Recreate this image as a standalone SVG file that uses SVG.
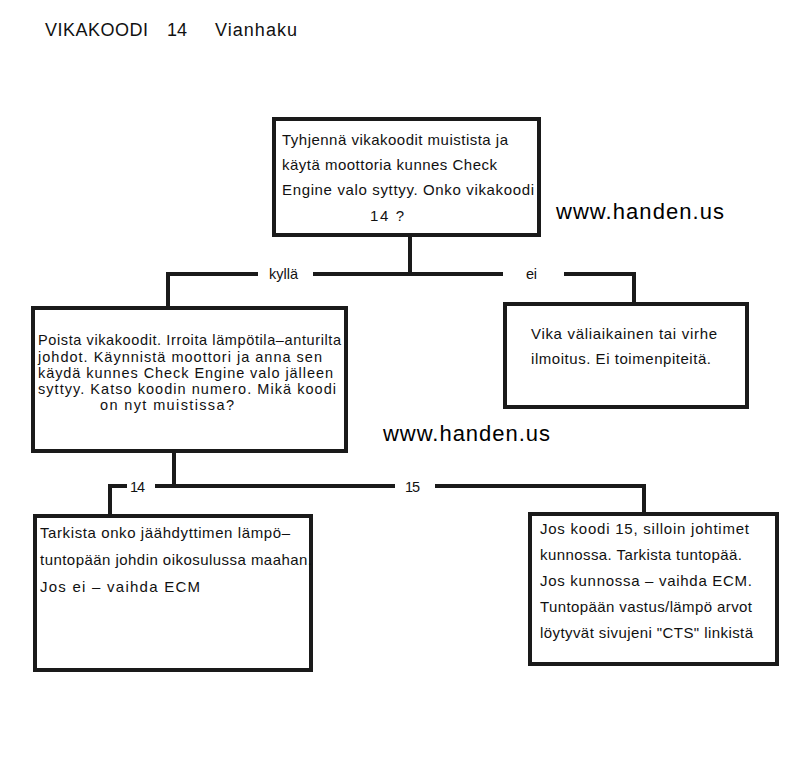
<svg xmlns="http://www.w3.org/2000/svg" width="800" height="766" viewBox="0 0 800 766">
<style>
.box{fill:#fff;stroke:#1a1a1a;stroke-width:4}
.con{fill:none;stroke:#1a1a1a;stroke-width:4;stroke-linejoin:miter}
text{font-family:"Liberation Sans",Arial,sans-serif;fill:#111}
.t{font-size:15px}
.t2{font-size:14.5px}
.lbl{font-size:14.5px}
.wm{font-size:22px;fill:#000}
.title{font-size:18px}
</style>
<rect width="800" height="766" fill="#fff"/>
<g id="title">
<text class="title" x="45" y="36" textLength="103" lengthAdjust="spacing">VIKAKOODI</text>
<text class="title" x="167" y="36" textLength="20" lengthAdjust="spacing">14</text>
<text class="title" x="215" y="36" textLength="82" lengthAdjust="spacing">Vianhaku</text>
</g>
<g id="connectors">
<path class="con" d="M410,235 V274"/>
<path class="con" d="M168,308 V274 H258"/>
<path class="con" d="M313,274 H503"/>
<path class="con" d="M564,274 H634 V304"/>
<path class="con" d="M174,451 V486"/>
<path class="con" d="M110,516 V486 H127"/>
<path class="con" d="M155,486 H395"/>
<path class="con" d="M435,486 H644 V514"/>
<text class="lbl" x="269" y="279" textLength="29" lengthAdjust="spacing">kyllä</text>
<text class="lbl" x="526" y="279" textLength="11" lengthAdjust="spacing">ei</text>
<text class="lbl" x="130" y="492" textLength="15" lengthAdjust="spacing">14</text>
<text class="lbl" x="405" y="492" textLength="15" lengthAdjust="spacing">15</text>
</g>
<g id="node1">
<rect class="box" x="274" y="119" width="265" height="116"/>
<text class="t" x="282" y="145" textLength="226" lengthAdjust="spacing">Tyhjennä vikakoodit muistista ja</text>
<text class="t" x="282" y="170" textLength="215" lengthAdjust="spacing">käytä moottoria kunnes Check</text>
<text class="t" x="282" y="195" textLength="252" lengthAdjust="spacing">Engine valo syttyy. Onko vikakoodi</text>
<text class="t" x="370" y="221" textLength="34" lengthAdjust="spacing">14 ?</text>
</g>
<g id="node2">
<rect class="box" x="33" y="308" width="313" height="143"/>
<text class="t2" x="38" y="345" textLength="303" lengthAdjust="spacing">Poista vikakoodit. Irroita lämpötila–anturilta</text>
<text class="t2" x="38" y="362" textLength="284" lengthAdjust="spacing">johdot. Käynnistä moottori ja anna sen</text>
<text class="t2" x="38" y="378" textLength="295" lengthAdjust="spacing">käydä kunnes Check Engine valo jälleen</text>
<text class="t2" x="38" y="394" textLength="298" lengthAdjust="spacing">syttyy. Katso koodin numero. Mikä koodi</text>
<text class="t2" x="100" y="410" textLength="134" lengthAdjust="spacing">on nyt muistissa?</text>
</g>
<g id="node3">
<rect class="box" x="505" y="304" width="242" height="103"/>
<text class="t" x="531" y="339" textLength="186" lengthAdjust="spacing">Vika väliaikainen tai virhe</text>
<text class="t" x="531" y="364" textLength="180" lengthAdjust="spacing">ilmoitus. Ei toimenpiteitä.</text>
</g>
<g id="node4">
<rect class="box" x="35" y="516" width="276" height="154"/>
<text class="t" x="40" y="538" textLength="250" lengthAdjust="spacing">Tarkista onko jäähdyttimen lämpö–</text>
<text class="t" x="40" y="565" textLength="272" lengthAdjust="spacing">tuntopään johdin oikosulussa maahan.</text>
<text class="t" x="40" y="592" textLength="160" lengthAdjust="spacing">Jos ei – vaihda ECM</text>
</g>
<g id="node5">
<rect class="box" x="530" y="514" width="247" height="150"/>
<text class="t" x="540" y="534" textLength="209" lengthAdjust="spacing">Jos koodi 15, silloin johtimet</text>
<text class="t" x="540" y="560" textLength="202" lengthAdjust="spacing">kunnossa. Tarkista tuntopää.</text>
<text class="t" x="540" y="586" textLength="212" lengthAdjust="spacing">Jos kunnossa – vaihda ECM.</text>
<text class="t" x="540" y="612" textLength="212" lengthAdjust="spacing">Tuntopään vastus/lämpö arvot</text>
<text class="t" x="540" y="638" textLength="213" lengthAdjust="spacing">löytyvät sivujeni "CTS" linkistä</text>
</g>
<g id="watermarks">
<text class="wm" x="556" y="219" textLength="168" lengthAdjust="spacing">www.handen.us</text>
<text class="wm" x="383" y="441" textLength="167" lengthAdjust="spacing">www.handen.us</text>
</g>
</svg>
